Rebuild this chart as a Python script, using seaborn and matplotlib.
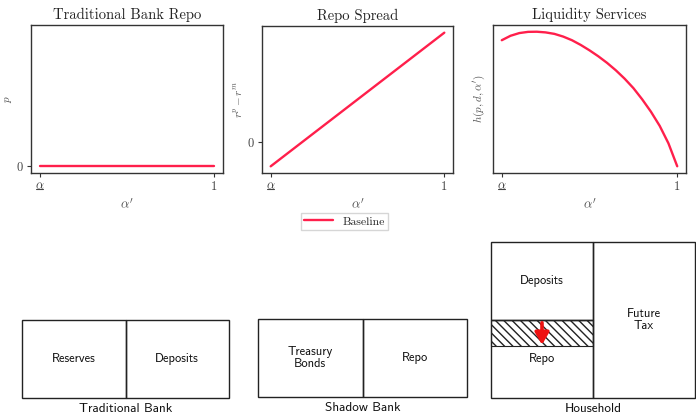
import pandas as pd
import seaborn as sns
import matplotlib.pyplot as plt
import matplotlib.transforms as mtransforms
from matplotlib.patches import Rectangle

# ---- data ----
alpha_grid = [0.00, 0.05, 0.10, 0.15, 0.20, 0.25, 0.30, 0.35, 0.40, 0.45, 0.50,
              0.55, 0.60, 0.65, 0.70, 0.75, 0.80, 0.85, 0.90, 0.95, 1.00]
repo_price = [0.0] * len(alpha_grid)
repo_spread = [-0.218 + 1.218 * a for a in alpha_grid]  # straight line read at both ends
liquidity = [0.935, 0.968, 0.988, 0.997, 0.998, 0.993, 0.982, 0.962, 0.935, 0.900, 0.860,
             0.816, 0.767, 0.712, 0.650, 0.580, 0.497, 0.405, 0.300, 0.170, 0.000]

titles = ["Traditional Bank Repo", "Repo Spread", "Liquidity Services"]
ylabels = [r"$p$", r"$r^p - r^m$", r"$h(p, d, \alpha')$"]
series_label = "Baseline"

# balance sheets: (assets column stacked top->bottom, liabilities column)
sheets = {
    "Traditional Bank": (["Reserves"], ["Deposits"]),
    "Shadow Bank": (["Treasury\nBonds"], ["Repo"]),
    "Household": (["Deposits", "Repo"], ["Future\nTax"]),
}

RED = "#FF1F4B"
INK = "#333333"

sns.set_theme(style="ticks")
plt.rcParams["font.family"] = ["cmr10", "DejaVu Serif"]
plt.rcParams["mathtext.fontset"] = "cm"
plt.rcParams["axes.unicode_minus"] = False
plt.rcParams["axes.formatter.use_mathtext"] = True

W, H = 696, 418
fig = plt.figure(figsize=(W / 100, H / 100), dpi=100)


def px_axes(left, top, right, bottom):
    return fig.add_axes([left / W, 1 - bottom / H, (right - left) / W, (bottom - top) / H])


df = pd.DataFrame({"alpha": alpha_grid, "p": repo_price,
                   "spread": repo_spread, "h": liquidity})

boxes = [(31, 25, 223, 173), (262, 26, 453, 173), (493, 25, 686, 173)]
cols = ["p", "spread", "h"]
ypads = [1, 1, 4]
axes = []
for i, (box, col) in enumerate(zip(boxes, cols)):
    ax = px_axes(*box)
    sns.lineplot(data=df, x="alpha", y=col, ax=ax, color=RED, linewidth=1.7,
                 label=series_label if i == 1 else None, legend=False)
    ax.set_title(titles[i], fontsize=10.5, color="#222222", pad=4)
    ax.set_xlabel(r"$\alpha'$", fontsize=9.5, color="#555555", labelpad=3)
    ax.set_ylabel(ylabels[i], fontsize=8, color="#555555", labelpad=ypads[i])
    ax.set_xticks([0, 1])
    ax.set_xticklabels([r"$\alpha$", "1"])
    if col == "p":
        ax.set_ylim(-0.05, 1.05)
        ax.set_yticks([0])
    elif col == "spread":
        ax.set_yticks([0])
    else:
        ax.set_yticks([])
    ax.tick_params(colors=INK, labelcolor="#444444", labelsize=9, length=3, width=0.8, pad=2.5)
    for s in ax.spines.values():
        s.set_visible(True)
        s.set_color(INK)
        s.set_linewidth(1.0)
    # underline under the alpha tick label (mathtext has no \underline)
    tr = mtransforms.blended_transform_factory(ax.transData, ax.transAxes) + \
        mtransforms.ScaledTranslation(0, -16 / 100, fig.dpi_scale_trans)
    ax.plot([-0.02, 0.02], [0, 0], transform=tr, color="#444444", lw=0.8, clip_on=False)
    axes.append(ax)

axes[1].legend(loc="upper center", bbox_to_anchor=(0.432, -0.23), frameon=True,
               fancybox=False, fontsize=8.5, edgecolor="#cccccc", handlelength=2.4,
               borderpad=0.3)

# ---- balance sheets ----
sheet_boxes = {
    "Traditional Bank": (22, 320, 229, 398),
    "Shadow Bank": (258, 319, 467, 397),
    "Household": (491, 242, 695, 398),
}
sans = ["cmss10", "DejaVu Sans"]
for name, (assets, liabs) in sheets.items():
    left, top, right, bottom = sheet_boxes[name]
    ax = px_axes(left, top, right, bottom)
    nrows = len(assets)
    ax.set_xlim(0, 2)
    ax.set_ylim(0, nrows)
    ax.axis("off")
    for j, lab in enumerate(assets):
        y0 = nrows - j - 1
        ax.add_patch(Rectangle((0, y0), 1, 1, fill=False, ec="#222222", lw=1.0, clip_on=False))
        ax.text(0.5, y0 + 0.5, lab, ha="center", va="center", fontsize=9,
                family=sans, color="#111111", linespacing=1.05)
    ax.add_patch(Rectangle((1, 0), 1, nrows, fill=False, ec="#222222", lw=1.0, clip_on=False))
    for lab in liabs:
        ax.text(1.5, nrows / 2, lab, ha="center", va="center", fontsize=9,
                family=sans, color="#111111", linespacing=1.05)
    cap = mtransforms.blended_transform_factory(ax.transData, ax.transAxes) + \
        mtransforms.ScaledTranslation(0, -5 / 100, fig.dpi_scale_trans)
    ax.text(1.0, 0, name, transform=cap, ha="center", va="top", fontsize=9.5,
            family=sans, color="#111111")
    if name == "Household":
        band = 1 / 3
        ax.add_patch(Rectangle((0, 1 - band), 1, band, fill=False, ec="#222222",
                               lw=0.8, hatch="\\\\\\\\", clip_on=False))
        ax.annotate("", xy=(0.5, 1 - band - 0.02), xytext=(0.5, 1.0),
                    arrowprops=dict(arrowstyle="-|>,head_width=0.35,head_length=0.6",
                                    color="#EE1111", lw=2.6))

fig.savefig("out.png", dpi=100)
